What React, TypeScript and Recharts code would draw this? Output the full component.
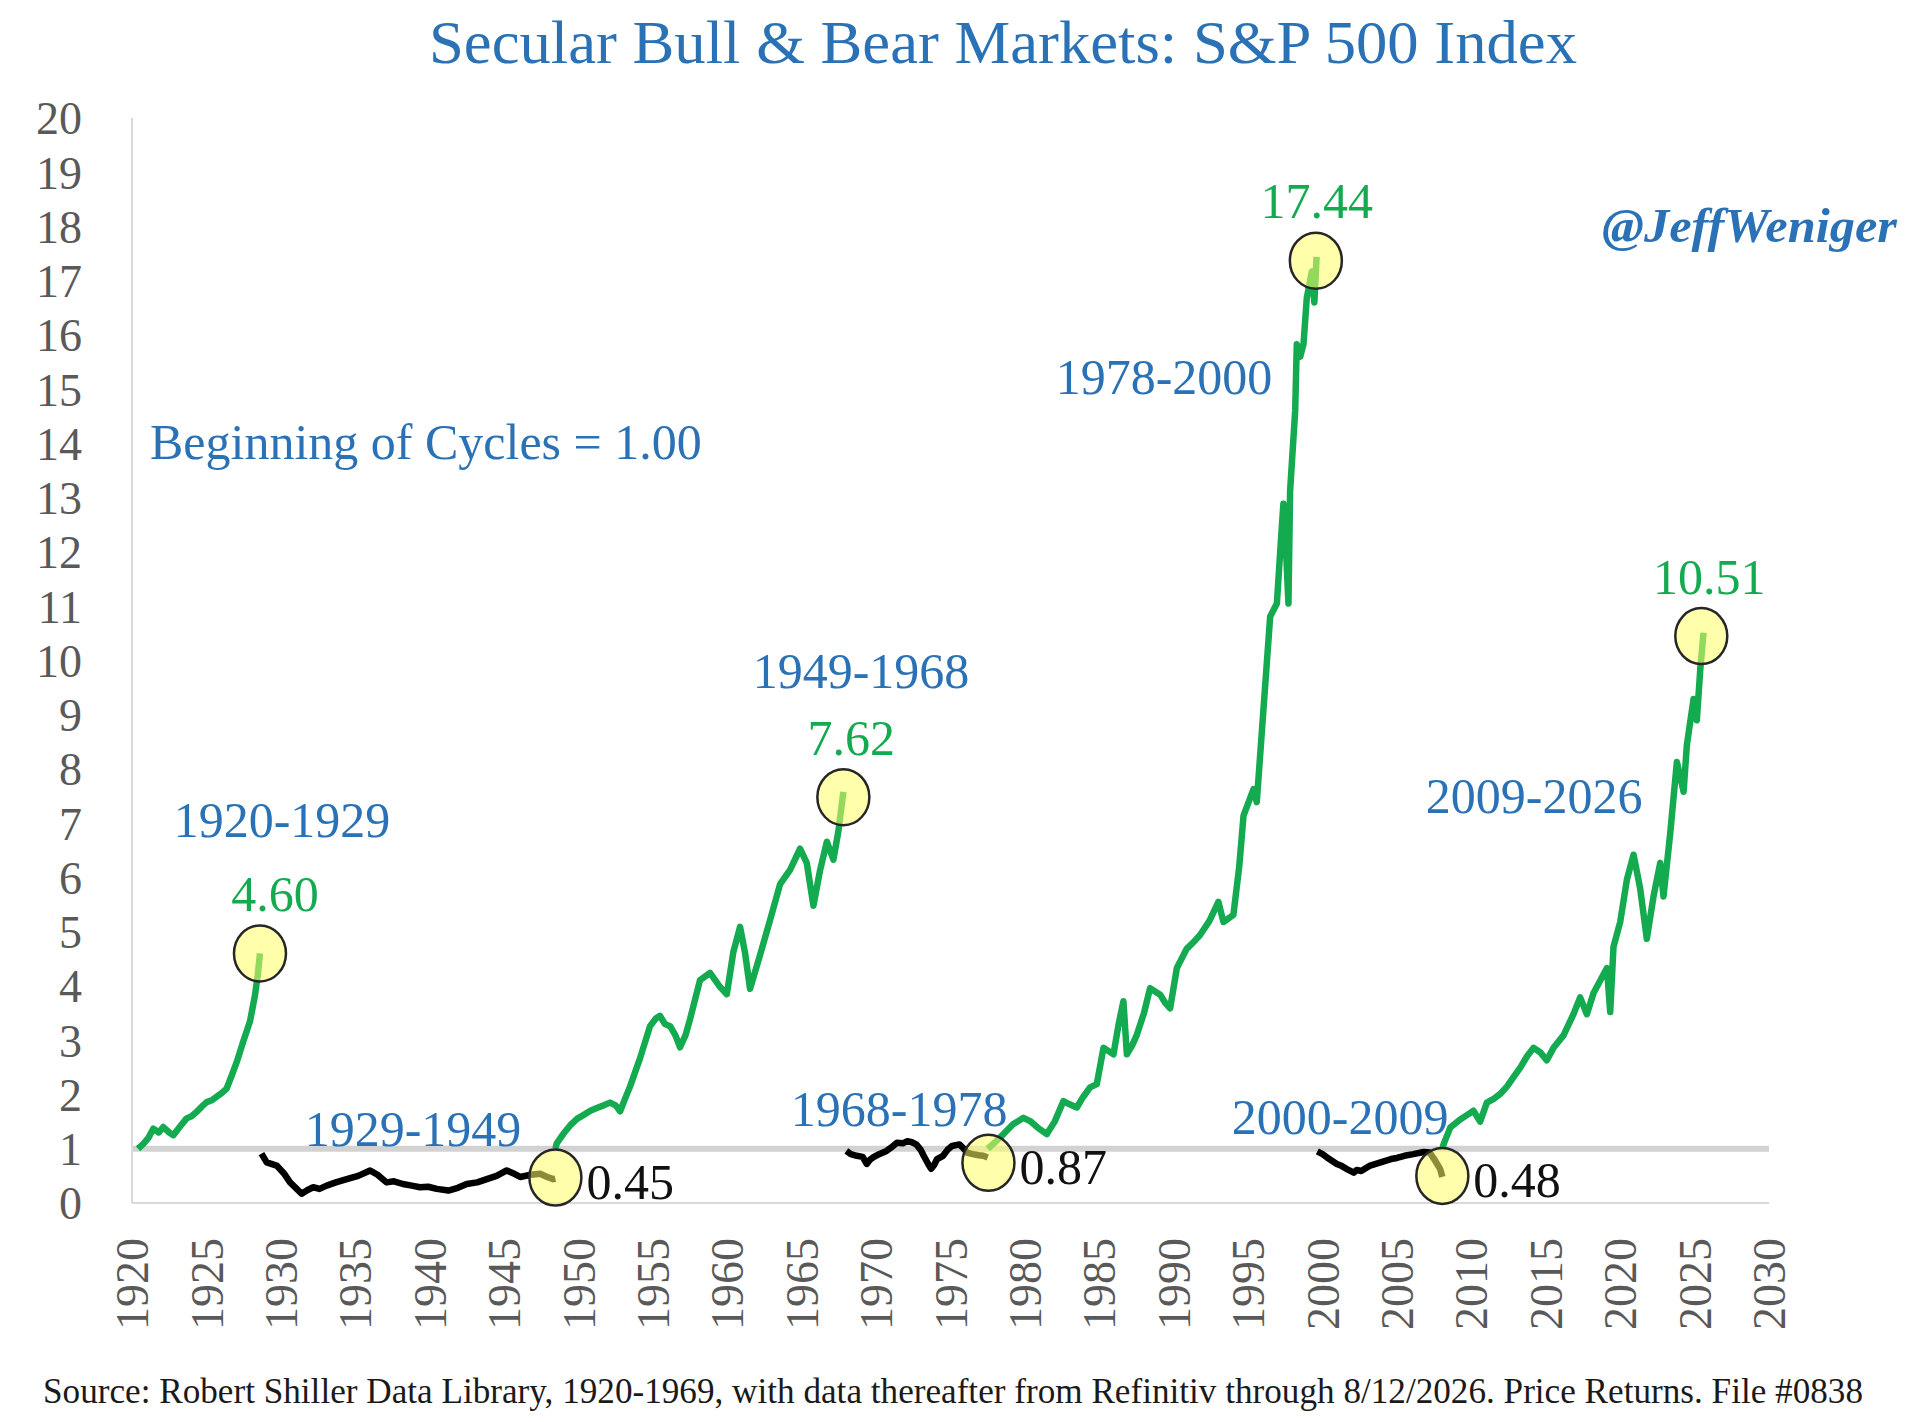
import React from 'react';
import { LineChart, Line, XAxis, YAxis, ReferenceLine, ReferenceDot } from 'recharts';

// ---- data (year as decimal, value relative to start of cycle) ----
const bull1920 = [
  { x: 1920.4, y: 1.0 }, { x: 1920.76, y: 1.09 }, { x: 1921.1, y: 1.2 }, { x: 1921.43, y: 1.37 },
  { x: 1921.8, y: 1.3 }, { x: 1922.1, y: 1.4 }, { x: 1922.5, y: 1.3 }, { x: 1922.78, y: 1.25 },
  { x: 1923.2, y: 1.4 }, { x: 1923.67, y: 1.56 }, { x: 1924.0, y: 1.6 }, { x: 1924.35, y: 1.68 },
  { x: 1924.7, y: 1.78 }, { x: 1925.02, y: 1.86 }, { x: 1925.4, y: 1.9 }, { x: 1925.69, y: 1.96 },
  { x: 1926.0, y: 2.02 }, { x: 1926.36, y: 2.11 }, { x: 1926.7, y: 2.35 }, { x: 1927.04, y: 2.6 },
  { x: 1927.48, y: 2.98 }, { x: 1927.93, y: 3.35 }, { x: 1928.27, y: 3.84 }, { x: 1928.45, y: 4.2 },
  { x: 1928.6, y: 4.6 },
];
const bear1929 = [
  { x: 1928.7, y: 0.91 }, { x: 1929.05, y: 0.75 }, { x: 1929.72, y: 0.69 }, { x: 1930.2, y: 0.55 },
  { x: 1930.62, y: 0.38 }, { x: 1931.0, y: 0.28 }, { x: 1931.4, y: 0.17 }, { x: 1931.8, y: 0.24 },
  { x: 1932.18, y: 0.29 }, { x: 1932.6, y: 0.26 }, { x: 1933.08, y: 0.32 }, { x: 1933.7, y: 0.38 },
  { x: 1934.43, y: 0.44 }, { x: 1935.2, y: 0.5 }, { x: 1936.0, y: 0.6 }, { x: 1936.5, y: 0.52 },
  { x: 1937.1, y: 0.38 }, { x: 1937.6, y: 0.4 }, { x: 1938.2, y: 0.35 }, { x: 1938.8, y: 0.32 },
  { x: 1939.35, y: 0.29 }, { x: 1939.9, y: 0.3 }, { x: 1940.48, y: 0.26 }, { x: 1941.26, y: 0.23 },
  { x: 1941.9, y: 0.28 }, { x: 1942.49, y: 0.35 }, { x: 1943.2, y: 0.38 }, { x: 1943.84, y: 0.44 },
  { x: 1944.5, y: 0.5 }, { x: 1945.18, y: 0.6 }, { x: 1945.6, y: 0.55 }, { x: 1946.08, y: 0.48 },
  { x: 1946.8, y: 0.52 }, { x: 1947.42, y: 0.54 }, { x: 1947.9, y: 0.48 }, { x: 1948.31, y: 0.44 },
  { x: 1948.45, y: 0.45 },
];
const bull1949 = [
  { x: 1948.45, y: 1.0 }, { x: 1948.54, y: 1.1 }, { x: 1949.0, y: 1.28 }, { x: 1949.44, y: 1.43 },
  { x: 1949.9, y: 1.55 }, { x: 1950.33, y: 1.62 }, { x: 1950.8, y: 1.7 }, { x: 1951.23, y: 1.75 },
  { x: 1951.7, y: 1.8 }, { x: 1952.12, y: 1.85 }, { x: 1952.5, y: 1.8 }, { x: 1952.8, y: 1.69 },
  { x: 1953.1, y: 1.9 }, { x: 1953.47, y: 2.15 }, { x: 1954.14, y: 2.67 }, { x: 1954.81, y: 3.26 },
  { x: 1955.2, y: 3.4 }, { x: 1955.48, y: 3.45 }, { x: 1955.8, y: 3.3 }, { x: 1956.16, y: 3.26 },
  { x: 1956.5, y: 3.1 }, { x: 1956.83, y: 2.87 }, { x: 1957.2, y: 3.1 }, { x: 1957.5, y: 3.39 },
  { x: 1958.17, y: 4.11 }, { x: 1958.84, y: 4.24 }, { x: 1959.52, y: 3.98 }, { x: 1959.97, y: 3.85 },
  { x: 1960.41, y: 4.63 }, { x: 1960.86, y: 5.09 }, { x: 1961.2, y: 4.6 }, { x: 1961.53, y: 3.95 },
  { x: 1962.2, y: 4.57 }, { x: 1962.88, y: 5.22 }, { x: 1963.55, y: 5.88 }, { x: 1964.22, y: 6.14 },
  { x: 1964.89, y: 6.53 }, { x: 1965.34, y: 6.27 }, { x: 1965.79, y: 5.48 }, { x: 1966.24, y: 6.14 },
  { x: 1966.69, y: 6.66 }, { x: 1967.13, y: 6.33 }, { x: 1967.47, y: 6.86 }, { x: 1967.8, y: 7.58 },
];
const bear1968 = [
  { x: 1968.0, y: 0.96 }, { x: 1968.3, y: 0.9 }, { x: 1968.7, y: 0.87 }, { x: 1969.1, y: 0.85 },
  { x: 1969.37, y: 0.72 }, { x: 1969.6, y: 0.8 }, { x: 1969.8, y: 0.84 }, { x: 1970.2, y: 0.9 },
  { x: 1970.7, y: 0.96 }, { x: 1971.0, y: 1.02 }, { x: 1971.4, y: 1.11 }, { x: 1971.8, y: 1.1 },
  { x: 1972.1, y: 1.14 }, { x: 1972.4, y: 1.12 }, { x: 1972.7, y: 1.08 }, { x: 1973.0, y: 0.98 },
  { x: 1973.2, y: 0.87 }, { x: 1973.5, y: 0.72 }, { x: 1973.7, y: 0.63 }, { x: 1973.9, y: 0.7 },
  { x: 1974.1, y: 0.81 }, { x: 1974.5, y: 0.87 }, { x: 1974.8, y: 0.98 }, { x: 1975.1, y: 1.05 },
  { x: 1975.6, y: 1.08 }, { x: 1975.9, y: 1.0 }, { x: 1976.1, y: 0.93 }, { x: 1976.5, y: 0.9 },
  { x: 1976.9, y: 0.88 }, { x: 1977.2, y: 0.87 }, { x: 1977.5, y: 0.84 },
];
const bull1978 = [
  { x: 1977.5, y: 1.0 }, { x: 1978.0, y: 1.12 }, { x: 1978.56, y: 1.27 }, { x: 1979.2, y: 1.45 },
  { x: 1979.9, y: 1.57 }, { x: 1980.35, y: 1.51 }, { x: 1980.9, y: 1.38 }, { x: 1981.47, y: 1.27 },
  { x: 1982.0, y: 1.5 }, { x: 1982.59, y: 1.88 }, { x: 1983.0, y: 1.82 }, { x: 1983.49, y: 1.76 },
  { x: 1983.9, y: 1.95 }, { x: 1984.38, y: 2.13 }, { x: 1984.83, y: 2.19 }, { x: 1985.28, y: 2.86 },
  { x: 1985.95, y: 2.74 }, { x: 1986.3, y: 3.3 }, { x: 1986.62, y: 3.72 }, { x: 1986.85, y: 2.74 },
  { x: 1987.2, y: 2.9 }, { x: 1987.52, y: 3.1 }, { x: 1988.0, y: 3.5 }, { x: 1988.41, y: 3.96 },
  { x: 1989.09, y: 3.84 }, { x: 1989.4, y: 3.7 }, { x: 1989.76, y: 3.59 }, { x: 1990.21, y: 4.33 },
  { x: 1990.88, y: 4.69 }, { x: 1991.3, y: 4.8 }, { x: 1991.77, y: 4.94 }, { x: 1992.4, y: 5.2 },
  { x: 1993.0, y: 5.55 }, { x: 1993.34, y: 5.18 }, { x: 1994.01, y: 5.31 }, { x: 1994.4, y: 6.2 },
  { x: 1994.69, y: 7.14 }, { x: 1995.36, y: 7.63 }, { x: 1995.58, y: 7.39 }, { x: 1996.03, y: 9.1 },
  { x: 1996.48, y: 10.81 }, { x: 1996.93, y: 11.05 }, { x: 1997.2, y: 12.2 }, { x: 1997.37, y: 12.89 },
  { x: 1997.55, y: 12.0 }, { x: 1997.71, y: 11.05 }, { x: 1997.82, y: 13.13 }, { x: 1998.16, y: 14.6 },
  { x: 1998.27, y: 15.83 }, { x: 1998.5, y: 15.6 }, { x: 1998.72, y: 15.83 }, { x: 1998.94, y: 16.68 },
  { x: 1999.28, y: 17.17 }, { x: 1999.45, y: 16.6 }, { x: 1999.6, y: 17.44 },
];
const bear2000 = [
  { x: 1999.65, y: 0.95 }, { x: 2000.0, y: 0.9 }, { x: 2000.3, y: 0.84 }, { x: 2000.96, y: 0.72 },
  { x: 2001.3, y: 0.68 }, { x: 2001.6, y: 0.63 }, { x: 2002.1, y: 0.56 }, { x: 2002.3, y: 0.61 },
  { x: 2002.6, y: 0.59 }, { x: 2002.9, y: 0.64 }, { x: 2003.2, y: 0.69 }, { x: 2003.9, y: 0.75 },
  { x: 2004.6, y: 0.81 }, { x: 2005.0, y: 0.83 }, { x: 2005.5, y: 0.87 }, { x: 2006.1, y: 0.9 },
  { x: 2006.8, y: 0.94 }, { x: 2007.2, y: 0.93 }, { x: 2007.5, y: 0.81 }, { x: 2007.7, y: 0.72 },
  { x: 2007.9, y: 0.63 }, { x: 2008.05, y: 0.48 },
];
const bull2009 = [
  { x: 2008.05, y: 1.0 }, { x: 2008.13, y: 1.08 }, { x: 2008.58, y: 1.39 }, { x: 2009.25, y: 1.54 },
  { x: 2009.7, y: 1.62 }, { x: 2010.14, y: 1.7 }, { x: 2010.59, y: 1.5 }, { x: 2011.04, y: 1.85 },
  { x: 2011.5, y: 1.92 }, { x: 2011.94, y: 2.01 }, { x: 2012.4, y: 2.15 }, { x: 2012.83, y: 2.32 },
  { x: 2013.3, y: 2.5 }, { x: 2013.73, y: 2.7 }, { x: 2014.17, y: 2.86 }, { x: 2014.62, y: 2.78 },
  { x: 2015.07, y: 2.63 }, { x: 2015.52, y: 2.86 }, { x: 2016.19, y: 3.09 }, { x: 2016.86, y: 3.48 },
  { x: 2017.31, y: 3.79 }, { x: 2017.76, y: 3.48 }, { x: 2018.21, y: 3.87 }, { x: 2018.66, y: 4.1 },
  { x: 2019.11, y: 4.33 }, { x: 2019.33, y: 3.52 }, { x: 2019.55, y: 4.72 }, { x: 2020.0, y: 5.18 },
  { x: 2020.45, y: 5.96 }, { x: 2020.9, y: 6.42 }, { x: 2021.34, y: 5.8 }, { x: 2021.79, y: 4.87 },
  { x: 2022.24, y: 5.65 }, { x: 2022.69, y: 6.27 }, { x: 2022.91, y: 5.65 }, { x: 2023.36, y: 6.81 },
  { x: 2023.81, y: 8.13 }, { x: 2024.26, y: 7.58 }, { x: 2024.48, y: 8.44 }, { x: 2024.93, y: 9.29 },
  { x: 2025.15, y: 8.9 }, { x: 2025.38, y: 9.83 }, { x: 2025.6, y: 10.51 },
];

const xTicks = [1920, 1925, 1930, 1935, 1940, 1945, 1950, 1955, 1960, 1965, 1970, 1975, 1980, 1985, 1990, 1995, 2000, 2005, 2010, 2015, 2020, 2025, 2030];
const yTicks = [0, 1, 2, 3, 4, 5, 6, 7, 8, 9, 10, 11, 12, 13, 14, 15, 16, 17, 18, 19, 20];

// circled turning points
const peaks = [
  { x: 1928.6, y: 4.6, label: '4.60' },
  { x: 1967.8, y: 7.48, label: '7.62' },
  { x: 1999.55, y: 17.37, label: '17.44' },
  { x: 2025.45, y: 10.45, label: '10.51' },
];
const troughs = [
  { x: 1948.45, y: 0.47, label: '0.45' },
  { x: 1977.55, y: 0.74, label: '0.87' },
  { x: 2008.05, y: 0.5, label: '0.48' },
];
// cycle period labels (placed at chart coordinates)
const periods = [
  { x: 1930.08, y: 7.06, label: '1920-1929' },
  { x: 1938.88, y: 1.37, label: '1929-1949' },
  { x: 1968.99, y: 9.82, label: '1949-1968' },
  { x: 1971.55, y: 1.75, label: '1968-1978' },
  { x: 1989.35, y: 15.24, label: '1978-2000' },
  { x: 2001.18, y: 1.6, label: '2000-2009' },
  { x: 2014.22, y: 7.52, label: '2009-2026' },
];

// horizontal nudge of each peak's value label (styling)
const peakLabelDx: Record<string, number> = { '4.60': 15, '7.62': 8, '17.44': 1, '10.51': 8 };

const FONT = '"Liberation Serif", "DejaVu Serif", serif';
const BLUE = '#2A72B5';
const GREEN = '#14AA50';
const GRAY_TXT = '#595959';
const LINE_W = 6.5;

const XTick = (props: any) => {
  const { x, y, payload } = props;
  return (
    <text
      transform={`translate(${x},${y}) rotate(-90)`}
      x={0}
      y={0}
      dy="0.35em"
      textAnchor="end"
      fontFamily={FONT}
      fontSize={46}
      fill={GRAY_TXT}
    >
      {payload.value}
    </text>
  );
};

const Mark = ({ cx, cy, label, kind }: any) => (
  <g>
    <ellipse cx={cx} cy={cy} rx={26} ry={28} fill="#FFFF66" fillOpacity={0.55} stroke="#262626" strokeWidth={2.5} />
    {kind === 'peak' ? (
      <text x={cx + (peakLabelDx[label] ?? 8)} y={cy - 60} dy="0.35em" textAnchor="middle" fontFamily={FONT} fontSize={50} fill={GREEN}>
        {label}
      </text>
    ) : (
      <text x={cx + 31} y={cy + 4} dy="0.35em" textAnchor="start" fontFamily={FONT} fontSize={50} fill="#111">
        {label}
      </text>
    )}
  </g>
);

const PeriodText = ({ cx, cy, label }: any) => (
  <text x={cx} y={cy} dy="0.35em" textAnchor="middle" fontFamily={FONT} fontSize={50} fill={BLUE}>
    {label}
  </text>
);

export default function App() {
  return (
    <div style={{ position: 'absolute', left: 0, top: 0, width: 1912, height: 1422, background: '#fff' }}>
      <LineChart
        width={1912}
        height={1422}
        margin={{ top: 118, right: 143, bottom: 119, left: 32 }}
        style={{ fontFamily: FONT }}
      >
        <XAxis
          type="number"
          dataKey="x"
          domain={[1920, 2030]}
          ticks={xTicks}
          interval={0}
          height={100}
          axisLine={{ stroke: '#D9D9D9', strokeWidth: 2 }}
          tickLine={false}
          tickSize={0}
          tickMargin={35}
          tick={<XTick />}
          allowDataOverflow
        />
        <YAxis
          type="number"
          domain={[0, 20]}
          ticks={yTicks}
          interval={0}
          width={100}
          axisLine={{ stroke: '#D9D9D9', strokeWidth: 2 }}
          tickLine={false}
          tickSize={0}
          tickMargin={50}
          tick={{ fontFamily: FONT, fontSize: 46, fill: GRAY_TXT }}
          allowDataOverflow
        />
        <ReferenceLine y={1} stroke="#D2D2D2" strokeWidth={6} />
        <Line data={bull1920} dataKey="y" type="linear" stroke={GREEN} strokeWidth={LINE_W} strokeLinejoin="round" dot={false} isAnimationActive={false} />
        <Line data={bear1929} dataKey="y" type="linear" stroke="#000" strokeWidth={LINE_W} strokeLinejoin="round" dot={false} isAnimationActive={false} />
        <Line data={bull1949} dataKey="y" type="linear" stroke={GREEN} strokeWidth={LINE_W} strokeLinejoin="round" dot={false} isAnimationActive={false} />
        <Line data={bear1968} dataKey="y" type="linear" stroke="#000" strokeWidth={LINE_W} strokeLinejoin="round" dot={false} isAnimationActive={false} />
        <Line data={bull1978} dataKey="y" type="linear" stroke={GREEN} strokeWidth={LINE_W} strokeLinejoin="round" dot={false} isAnimationActive={false} />
        <Line data={bear2000} dataKey="y" type="linear" stroke="#000" strokeWidth={LINE_W} strokeLinejoin="round" dot={false} isAnimationActive={false} />
        <Line data={bull2009} dataKey="y" type="linear" stroke={GREEN} strokeWidth={LINE_W} strokeLinejoin="round" dot={false} isAnimationActive={false} />
        {peaks.map((p) => (
          <ReferenceDot
            key={'p' + p.label}
            x={p.x}
            y={p.y}
            r={26}
            shape={(s: any) => <Mark cx={s.cx} cy={s.cy} label={p.label} kind="peak" />}
          />
        ))}
        {troughs.map((p) => (
          <ReferenceDot
            key={'t' + p.label}
            x={p.x}
            y={p.y}
            r={26}
            shape={(s: any) => <Mark cx={s.cx} cy={s.cy} label={p.label} kind="trough" />}
          />
        ))}
        {periods.map((p) => (
          <ReferenceDot
            key={'c' + p.label}
            x={p.x}
            y={p.y}
            r={1}
            shape={(s: any) => <PeriodText cx={s.cx} cy={s.cy} label={p.label} />}
          />
        ))}
      </LineChart>
      <svg
        width={1912}
        height={1422}
        style={{ position: 'absolute', left: 0, top: 0, pointerEvents: 'none' }}
      >
        <text x={1003} y={63} textAnchor="middle" fontFamily={FONT} fontSize={62} fill={BLUE} textLength={1148} lengthAdjust="spacingAndGlyphs">
          Secular Bull &amp; Bear Markets: S&amp;P 500 Index
        </text>
        <text x={1602} y={242} fontFamily={FONT} fontSize={48} fontWeight="bold" fontStyle="italic" fill={BLUE} textLength={295} lengthAdjust="spacingAndGlyphs">
          @JeffWeniger
        </text>
        <text x={150} y={459} fontFamily={FONT} fontSize={50} fill={BLUE}>
          Beginning of Cycles = 1.00
        </text>
        <text x={43} y={1403} fontFamily={FONT} fontSize={36} fill="#1a1a1a" textLength={1820} lengthAdjust="spacingAndGlyphs">
          Source: Robert Shiller Data Library, 1920-1969, with data thereafter from Refinitiv through 8/12/2026. Price Returns. File #0838
        </text>
      </svg>
    </div>
  );
}
